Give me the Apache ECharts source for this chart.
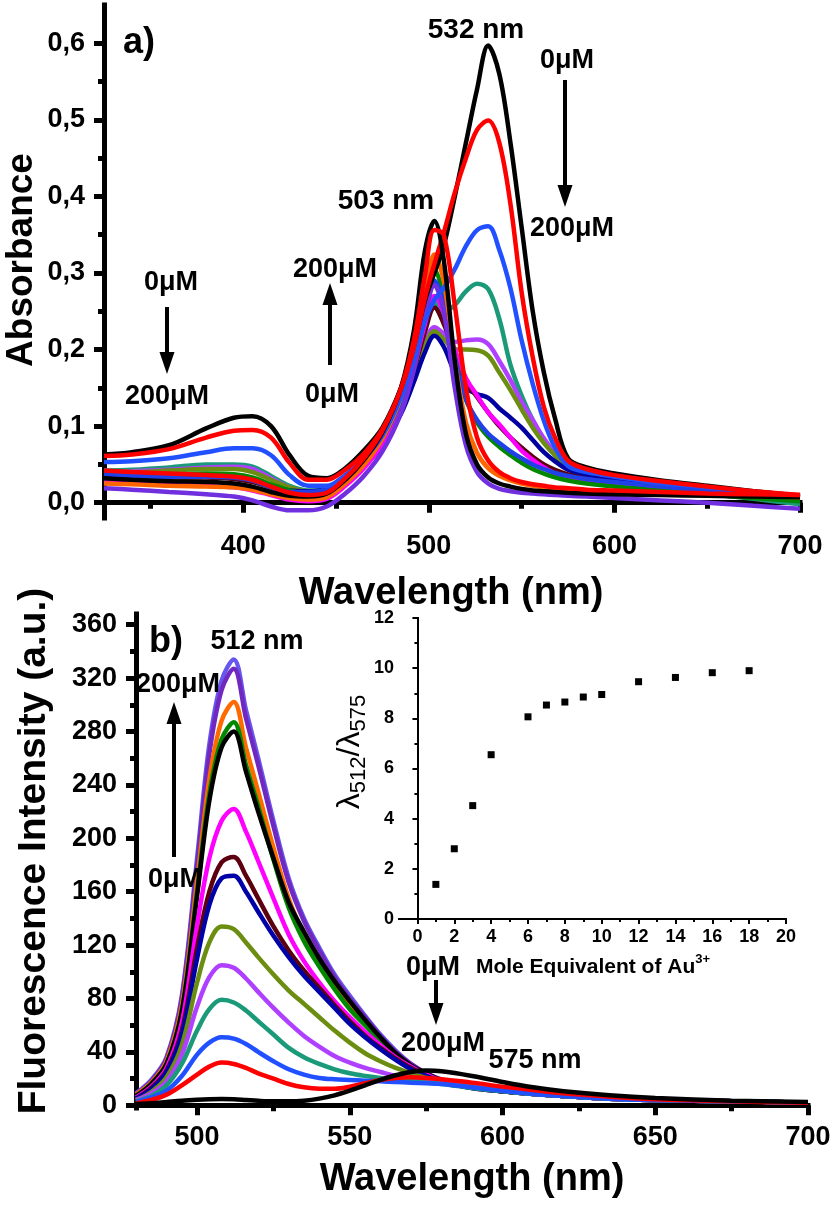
<!DOCTYPE html>
<html>
<head>
<meta charset="utf-8">
<script src="https://cdn.jsdelivr.net/npm/echarts@6/dist/echarts.min.js"></script>
<style>
  html, body { margin: 0; padding: 0; background: #fff; }
  #chart { width: 835px; height: 1205px; }
</style>
</head>
<body>
<div id="chart"></div>
<script>
// a) absorbance spectra, 0 -> 200 uM
const absWl = [325, 340, 360, 380, 395, 405, 415, 425, 435, 445, 455, 465, 475, 485, 492, 498, 503, 508, 514, 520, 526, 532, 538, 544, 550, 556, 562, 568, 575, 585, 600, 625, 650, 675, 700];
const absBlack0 = [0.063, 0.066, 0.075, 0.097, 0.111, 0.113, 0.100, 0.062, 0.035, 0.032, 0.045, 0.068, 0.098, 0.150, 0.205, 0.265, 0.300, 0.335, 0.400, 0.470, 0.540, 0.597, 0.560, 0.470, 0.360, 0.250, 0.170, 0.110, 0.058, 0.046, 0.038, 0.029, 0.022, 0.015, 0.009];
const absRed1 = [0.061, 0.063, 0.070, 0.085, 0.094, 0.095, 0.085, 0.052, 0.030, 0.030, 0.043, 0.064, 0.096, 0.148, 0.203, 0.268, 0.312, 0.352, 0.405, 0.450, 0.487, 0.499, 0.470, 0.390, 0.275, 0.190, 0.125, 0.085, 0.055, 0.044, 0.036, 0.028, 0.021, 0.015, 0.010];
const absBlue = [0.053, 0.054, 0.058, 0.066, 0.071, 0.071, 0.062, 0.036, 0.022, 0.022, 0.036, 0.057, 0.088, 0.138, 0.188, 0.238, 0.265, 0.280, 0.305, 0.335, 0.356, 0.361, 0.330, 0.280, 0.212, 0.155, 0.107, 0.072, 0.048, 0.040, 0.034, 0.026, 0.020, 0.014, 0.008];
const absTeal = [0.042, 0.043, 0.046, 0.050, 0.050, 0.047, 0.035, 0.022, 0.016, 0.017, 0.032, 0.054, 0.086, 0.133, 0.180, 0.228, 0.262, 0.250, 0.258, 0.276, 0.286, 0.279, 0.240, 0.180, 0.140, 0.108, 0.082, 0.062, 0.044, 0.036, 0.029, 0.020, 0.012, 0.005, -0.002];
const absPurple = [0.040, 0.041, 0.043, 0.046, 0.047, 0.044, 0.032, 0.020, 0.014, 0.014, 0.028, 0.050, 0.081, 0.127, 0.170, 0.210, 0.229, 0.221, 0.210, 0.212, 0.213, 0.207, 0.185, 0.160, 0.132, 0.108, 0.084, 0.065, 0.050, 0.040, 0.033, 0.025, 0.019, 0.013, 0.007];
const absOlive = [0.040, 0.040, 0.042, 0.044, 0.044, 0.040, 0.030, 0.020, 0.015, 0.015, 0.028, 0.049, 0.080, 0.125, 0.167, 0.205, 0.224, 0.214, 0.200, 0.200, 0.199, 0.192, 0.170, 0.147, 0.122, 0.098, 0.078, 0.062, 0.048, 0.038, 0.031, 0.023, 0.016, 0.010, 0.004];
const absNavy = [0.036, 0.035, 0.035, 0.036, 0.034, 0.030, 0.022, 0.016, 0.015, 0.018, 0.030, 0.048, 0.074, 0.116, 0.158, 0.197, 0.218, 0.204, 0.170, 0.150, 0.142, 0.137, 0.123, 0.111, 0.098, 0.082, 0.066, 0.054, 0.043, 0.035, 0.029, 0.022, 0.016, 0.011, 0.007];
const absMaroon = [0.035, 0.034, 0.033, 0.033, 0.031, 0.027, 0.020, 0.013, 0.010, 0.013, 0.028, 0.050, 0.081, 0.127, 0.174, 0.224, 0.255, 0.234, 0.194, 0.160, 0.138, 0.118, 0.100, 0.085, 0.072, 0.060, 0.050, 0.043, 0.037, 0.031, 0.026, 0.020, 0.015, 0.010, 0.006];
const absMagenta = [0.028, 0.026, 0.024, 0.022, 0.020, 0.016, 0.010, 0.004, 0.002, 0.005, 0.022, 0.045, 0.077, 0.124, 0.177, 0.234, 0.270, 0.248, 0.200, 0.163, 0.140, 0.118, 0.102, 0.085, 0.068, 0.056, 0.046, 0.038, 0.032, 0.027, 0.023, 0.018, 0.014, 0.010, 0.006];
const absGreen = [0.038, 0.037, 0.037, 0.038, 0.037, 0.033, 0.024, 0.016, 0.012, 0.015, 0.030, 0.052, 0.084, 0.134, 0.189, 0.259, 0.305, 0.270, 0.190, 0.135, 0.105, 0.086, 0.073, 0.062, 0.052, 0.044, 0.038, 0.033, 0.029, 0.025, 0.021, 0.016, 0.011, 0.006, 0.002];
const absRoyal = [0.037, 0.035, 0.034, 0.034, 0.033, 0.029, 0.020, 0.014, 0.014, 0.018, 0.032, 0.053, 0.085, 0.134, 0.189, 0.254, 0.290, 0.262, 0.190, 0.135, 0.108, 0.090, 0.078, 0.067, 0.058, 0.050, 0.044, 0.039, 0.035, 0.031, 0.027, 0.021, 0.016, 0.012, 0.008];
const absOrange = [0.025, 0.024, 0.022, 0.021, 0.020, 0.017, 0.011, 0.006, 0.004, 0.007, 0.025, 0.049, 0.084, 0.137, 0.199, 0.274, 0.324, 0.290, 0.185, 0.105, 0.065, 0.045, 0.035, 0.029, 0.025, 0.022, 0.020, 0.019, 0.018, 0.016, 0.015, 0.013, 0.011, 0.009, 0.007];
const absViolet = [0.019, 0.017, 0.014, 0.011, 0.008, 0.003, -0.005, -0.010, -0.010, -0.005, 0.012, 0.035, 0.067, 0.117, 0.174, 0.244, 0.284, 0.250, 0.150, 0.075, 0.040, 0.025, 0.018, 0.015, 0.013, 0.012, 0.011, 0.010, 0.009, 0.008, 0.006, 0.003, 0.000, -0.004, -0.008];
const absBlack2 = [0.032, 0.030, 0.028, 0.027, 0.025, 0.021, 0.014, 0.009, 0.008, 0.012, 0.030, 0.056, 0.092, 0.150, 0.225, 0.330, 0.368, 0.318, 0.185, 0.090, 0.050, 0.033, 0.025, 0.021, 0.018, 0.016, 0.015, 0.014, 0.013, 0.012, 0.011, 0.010, 0.009, 0.008, 0.007];
const absRed2 = [0.042, 0.040, 0.038, 0.036, 0.034, 0.030, 0.021, 0.013, 0.010, 0.013, 0.032, 0.058, 0.094, 0.149, 0.213, 0.298, 0.356, 0.350, 0.258, 0.150, 0.085, 0.055, 0.040, 0.032, 0.027, 0.024, 0.022, 0.020, 0.019, 0.017, 0.016, 0.014, 0.012, 0.011, 0.010];

// b) fluorescence spectra, 0 -> 200 uM
const fluWl = [480, 485, 490, 495, 500, 504, 508, 512, 516, 520, 525, 530, 535, 540, 545, 550, 555, 560, 565, 570, 575, 580, 590, 600, 610, 620, 635, 650, 675, 700];
const fluBlack0 = [1, 1.5, 2.5, 3.5, 4.2, 4.6, 4.8, 4.6, 4.0, 3.4, 3.0, 3.0, 3.5, 5, 7.5, 11, 15, 19, 22.5, 25, 26, 25.5, 22, 17.5, 13.5, 10.5, 7.5, 5.5, 3.5, 2.5];
const fluRed = [1.5, 4, 8, 15, 23, 29, 32, 31, 28, 24, 20, 16, 13.5, 12.5, 12.5, 14, 16.5, 19, 20.5, 21, 20.5, 19.5, 17, 14, 11.5, 9, 6.5, 4.5, 3, 2];
const fluBlue = [2.5, 6, 11, 22, 38, 47, 51, 50, 46, 40, 33, 27, 23, 20.5, 19.5, 19, 18.5, 18, 17.5, 17, 16.5, 16, 13.5, 11, 8.5, 7, 5, 4, 3, 2];
const fluTeal = [3, 7, 15, 31, 56, 72, 79, 77, 71, 63, 53, 43, 36, 31, 27, 24, 22, 20.5, 19, 18, 17, 16, 13, 10.5, 8.5, 7, 5, 4, 3, 2];
const fluPurple = [4, 9, 18, 38, 74, 96, 105, 103, 95, 85, 73, 62, 52, 44, 37, 32, 28, 25, 22, 20, 18.5, 17, 13.5, 11, 8.5, 7, 5, 4, 3, 2];
const fluOlive = [4, 10, 21, 45, 92, 122, 134, 132, 122, 111, 98, 86, 76, 66, 56, 47, 39, 33, 28, 24, 20.5, 18, 14, 11, 8.5, 7, 5, 4, 3, 2];
const fluNavy = [5, 12, 25, 53, 110, 150, 170, 172, 160, 145, 127, 111, 97, 85, 73, 61, 51, 42, 34, 27, 22, 18, 13, 10.5, 8.5, 7, 5, 4, 3, 2];
const fluMaroon = [5, 13, 26, 56, 118, 160, 182, 186, 172, 155, 134, 116, 101, 88, 75, 63, 52, 43, 35, 28, 22, 18, 13, 10.5, 8.5, 7, 5, 4, 3, 2];
const fluMagenta = [6, 14, 28, 62, 135, 185, 213, 222, 205, 183, 155, 128, 108, 92, 78, 66, 55, 45, 36, 29, 23, 18.5, 13.5, 10.5, 8.5, 7, 5, 4, 3, 2];
const fluBlack = [7, 16, 31, 70, 157, 228, 268, 280, 250, 220, 185, 152, 130, 110, 93, 78, 64, 51, 39, 30, 24, 19, 13.5, 10.5, 8.5, 7, 5, 4, 3, 2];
const fluGreen = [7, 16, 31, 71, 160, 233, 274, 287, 255, 224, 184, 148, 123, 104, 87, 72, 60, 48, 37, 29, 23, 18.5, 13.5, 10.5, 8.5, 7, 5, 4, 3, 2];
const fluOrange = [8, 17, 33, 75, 168, 244, 288, 302, 268, 235, 193, 155, 128, 108, 90, 75, 62, 49, 38, 29, 23, 18.5, 13.5, 10.5, 8.5, 7, 5, 4, 3, 2];
const fluPurple2 = [8, 18, 35, 80, 180, 263, 311, 327, 290, 255, 209, 167, 138, 116, 96, 80, 66, 52, 40, 31, 24, 19, 14, 11, 9, 7, 5, 4, 3, 2];
const fluViolet = [9, 19, 36, 82, 185, 270, 318, 334, 296, 260, 213, 170, 140, 118, 98, 82, 67, 53, 41, 31, 24, 19.5, 14, 11, 9, 7, 5, 4, 3, 2];

// inset: ratio vs mole equivalent
const insetEq = [1, 2, 3, 4, 6, 7, 8, 9, 10, 12, 14, 16, 18];
const insetRatio = [1.38, 2.80, 4.52, 6.55, 8.06, 8.53, 8.65, 8.85, 8.95, 9.46, 9.63, 9.82, 9.90];

// tick labels
const absXTicks = [400, 500, 600, 700];
const absXMinor = [350, 450, 550, 650];
const absYTicks = [0, 0.1, 0.2, 0.3, 0.4, 0.5, 0.6];
const absYMinor = [0.05, 0.15, 0.25, 0.35, 0.45, 0.55];
const fluXTicks = [500, 550, 600, 650, 700];
const fluXMinor = [525, 575, 625, 675];
const fluYTicks = [0, 40, 80, 120, 160, 200, 240, 280, 320, 360];
const fluYMinor = [20, 60, 100, 140, 180, 220, 260, 300, 340];
const insXTicks = [0, 2, 4, 6, 8, 10, 12, 14, 16, 18, 20];
const insXMinor = [1, 3, 5, 7, 9, 11, 13, 15, 17, 19];
const insYTicks = [0, 2, 4, 6, 8, 10, 12];
const insYMinor = [1, 3, 5, 7, 9, 11];

const FONT = "'Liberation Sans', Arial, sans-serif";

let myChart = echarts.init(document.getElementById('chart'));

function mainAxis(grid, pos, min, max, ticks, w, size, margin, tickLen, fmt) {
    return {
        type: 'value', gridIndex: grid, position: pos, min: min, max: max,
        axisLine: { show: true, lineStyle: { color: '#000', width: w, cap: 'square' } },
        axisTick: { show: true, customValues: ticks, length: tickLen, lineStyle: { color: '#000', width: w } },
        axisLabel: {
            show: true, customValues: ticks, color: '#000', fontFamily: FONT, fontWeight: 'bold',
            fontSize: size, margin: margin, formatter: fmt
        },
        splitLine: { show: false }
    };
}
function minorAxis(grid, pos, min, max, ticks, w, tickLen) {
    return {
        type: 'value', gridIndex: grid, position: pos, min: min, max: max,
        axisLine: { show: false },
        axisTick: { show: true, customValues: ticks, length: tickLen, lineStyle: { color: '#000', width: w } },
        axisLabel: { show: false },
        splitLine: { show: false }
    };
}
function curve(wl, vals, color, xi, yi) {
    return {
        type: 'line', xAxisIndex: xi, yAxisIndex: yi,
        data: wl.map((w, i) => [w, vals[i]]),
        showSymbol: false, symbol: 'none', smooth: 0.35, silent: true,
        lineStyle: { color: color, width: 4.5 }
    };
}
function txt(text, x, y, size) {
    return {
        type: 'text', x: x, y: y, z: 100,
        style: { text: text, fontSize: size, fontWeight: 'bold', fontFamily: FONT, fill: '#000', align: 'center', verticalAlign: 'middle' }
    };
}
function arrow(x, yTail, yTip) {
    let d = yTip > yTail ? 1 : -1;
    return [
        { type: 'line', z: 100, shape: { x1: x, y1: yTail, x2: x, y2: yTip - d * 16 }, style: { stroke: '#000', lineWidth: 4 } },
        { type: 'polygon', z: 100, shape: { points: [[x - 7.5, yTip - d * 22], [x + 7.5, yTip - d * 22], [x, yTip]] }, style: { fill: '#000' } }
    ];
}

const absFmt = v => v.toFixed(1).replace('.', ',');

let option = {
    animation: false,
    backgroundColor: '#fff',
    grid: [
        { left: 104, top: 5, width: 696, height: 513, outerBoundsMode: 'none' },
        { left: 136, top: 614, width: 672, height: 494, outerBoundsMode: 'none' },
        { left: 399, top: 618, width: 387, height: 301, outerBoundsMode: 'none' }
    ],
    xAxis: [
        mainAxis(0, 'bottom', 325, 700, absXTicks, 5, 27, 15, 10),
        minorAxis(0, 'bottom', 325, 700, absXMinor, 5, 6),
        mainAxis(1, 'bottom', 480, 700, fluXTicks, 5, 27, 16, 10),
        minorAxis(1, 'bottom', 480, 700, fluXMinor, 5, 6),
        mainAxis(2, 'bottom', -1, 20, insXTicks, 2, 18, 9, 5),
        minorAxis(2, 'bottom', -1, 20, insXMinor, 2, 3)
    ],
    yAxis: [
        mainAxis(0, 'left', -0.02, 0.65, absYTicks, 5, 27, 19, 10, absFmt),
        minorAxis(0, 'left', -0.02, 0.65, absYMinor, 5, 6),
        mainAxis(1, 'left', -2, 368, fluYTicks, 5, 27, 19, 10),
        minorAxis(1, 'left', -2, 368, fluYMinor, 5, 6),
        mainAxis(2, 'left', 0, 12, insYTicks, 2, 18, 5, 5),
        minorAxis(2, 'left', 0, 12, insYMinor, 2, 3)
    ],
    series: [
        curve(absWl, absTeal, '#1a9a78', 0, 0),
        curve(absWl, absPurple, '#b040ff', 0, 0),
        curve(absWl, absOlive, '#6b8e10', 0, 0),
        curve(absWl, absNavy, '#0000a0', 0, 0),
        curve(absWl, absMaroon, '#5c0010', 0, 0),
        curve(absWl, absMagenta, '#ff00ff', 0, 0),
        curve(absWl, absGreen, '#008800', 0, 0),
        curve(absWl, absRoyal, '#2040e8', 0, 0),
        curve(absWl, absOrange, '#ff6600', 0, 0),
        curve(absWl, absViolet, '#7030e0', 0, 0),
        curve(absWl, absBlue, '#2050ff', 0, 0),
        curve(absWl, absBlack0, '#000000', 0, 0),
        curve(absWl, absRed1, '#ff0000', 0, 0),
        curve(absWl, absBlack2, '#000000', 0, 0),
        curve(absWl, absRed2, '#ff0000', 0, 0),

        curve(fluWl, fluViolet, '#6655ee', 2, 2),
        curve(fluWl, fluPurple2, '#7028c0', 2, 2),
        curve(fluWl, fluOrange, '#ff6a00', 2, 2),
        curve(fluWl, fluGreen, '#008800', 2, 2),
        curve(fluWl, fluBlack, '#000000', 2, 2),
        curve(fluWl, fluMagenta, '#ff00ff', 2, 2),
        curve(fluWl, fluMaroon, '#5c0010', 2, 2),
        curve(fluWl, fluNavy, '#0000a8', 2, 2),
        curve(fluWl, fluOlive, '#6b8e10', 2, 2),
        curve(fluWl, fluPurple, '#b040ff', 2, 2),
        curve(fluWl, fluTeal, '#1a9a78', 2, 2),
        curve(fluWl, fluBlue, '#2050ff', 2, 2),
        curve(fluWl, fluRed, '#ff0000', 2, 2),
        curve(fluWl, fluBlack0, '#000000', 2, 2),

        {
            type: 'scatter', xAxisIndex: 4, yAxisIndex: 4,
            data: insetEq.map((e, i) => [e, insetRatio[i]]),
            symbol: 'rect', symbolSize: 7, itemStyle: { color: '#000', opacity: 1 }, silent: true
        }
    ],
    graphic: [
        // axis titles
        { type: 'text', x: 22, y: 260, rotation: Math.PI / 2, z: 100,
          style: { text: 'Absorbance', fontSize: 37, fontWeight: 'bold', fontFamily: FONT, fill: '#000', align: 'center', verticalAlign: 'middle' } },
        txt('Wavelength (nm)', 451, 594, 38),
        { type: 'text', x: 34, y: 851, rotation: Math.PI / 2, z: 100,
          style: { text: 'Fluorescence Intensity (a.u.)', fontSize: 39, fontWeight: 'bold', fontFamily: FONT, fill: '#000', align: 'center', verticalAlign: 'middle' } },
        txt('Wavelength (nm)', 472, 1180, 38),
        { type: 'text', x: 350, y: 752, rotation: Math.PI / 2, z: 100,
          style: { text: '{l|λ}{s|512}{l|/λ}{s|575}', fontFamily: FONT, fill: '#000', align: 'center', verticalAlign: 'middle',
                   rich: { l: { fontSize: 32, lineHeight: 40, fontFamily: FONT }, s: { fontSize: 22, verticalAlign: 'bottom', fontFamily: FONT } } } },
        { type: 'text', x: 593, y: 967, z: 100,
          style: { text: '{t|Mole Equivalent of Au}{u|3+}', fill: '#000', align: 'center', verticalAlign: 'middle',
                   rich: { t: { fontSize: 21, fontWeight: 'bold', fontFamily: FONT, lineHeight: 28 },
                           u: { fontSize: 13, fontWeight: 'bold', fontFamily: FONT, verticalAlign: 'top' } } } },
        // panel a annotations
        txt('a)', 139, 43, 36),
        txt('532 nm', 476, 30, 28),
        txt('0μM', 567, 61, 27),
        txt('200μM', 572, 229, 27),
        txt('503 nm', 386, 201, 28),
        txt('0μM', 171, 283, 27),
        txt('200μM', 167, 397, 27),
        txt('200μM', 335, 270, 27),
        txt('0μM', 332, 395, 27),
        ...arrow(565, 80, 207),
        ...arrow(167, 307, 374),
        ...arrow(330, 365, 283),
        // panel b annotations
        txt('b)', 166, 642, 36),
        txt('512 nm', 257, 642, 27),
        txt('200μM', 178, 685, 27),
        txt('0μM', 175, 880, 27),
        txt('0μM', 433, 968, 27),
        txt('200μM', 443, 1044, 27),
        txt('575 nm', 535, 1061, 27),
        ...arrow(174, 857, 702),
        ...arrow(436, 980, 1025)
    ]
};
myChart.setOption(option);
</script>
</body>
</html>
